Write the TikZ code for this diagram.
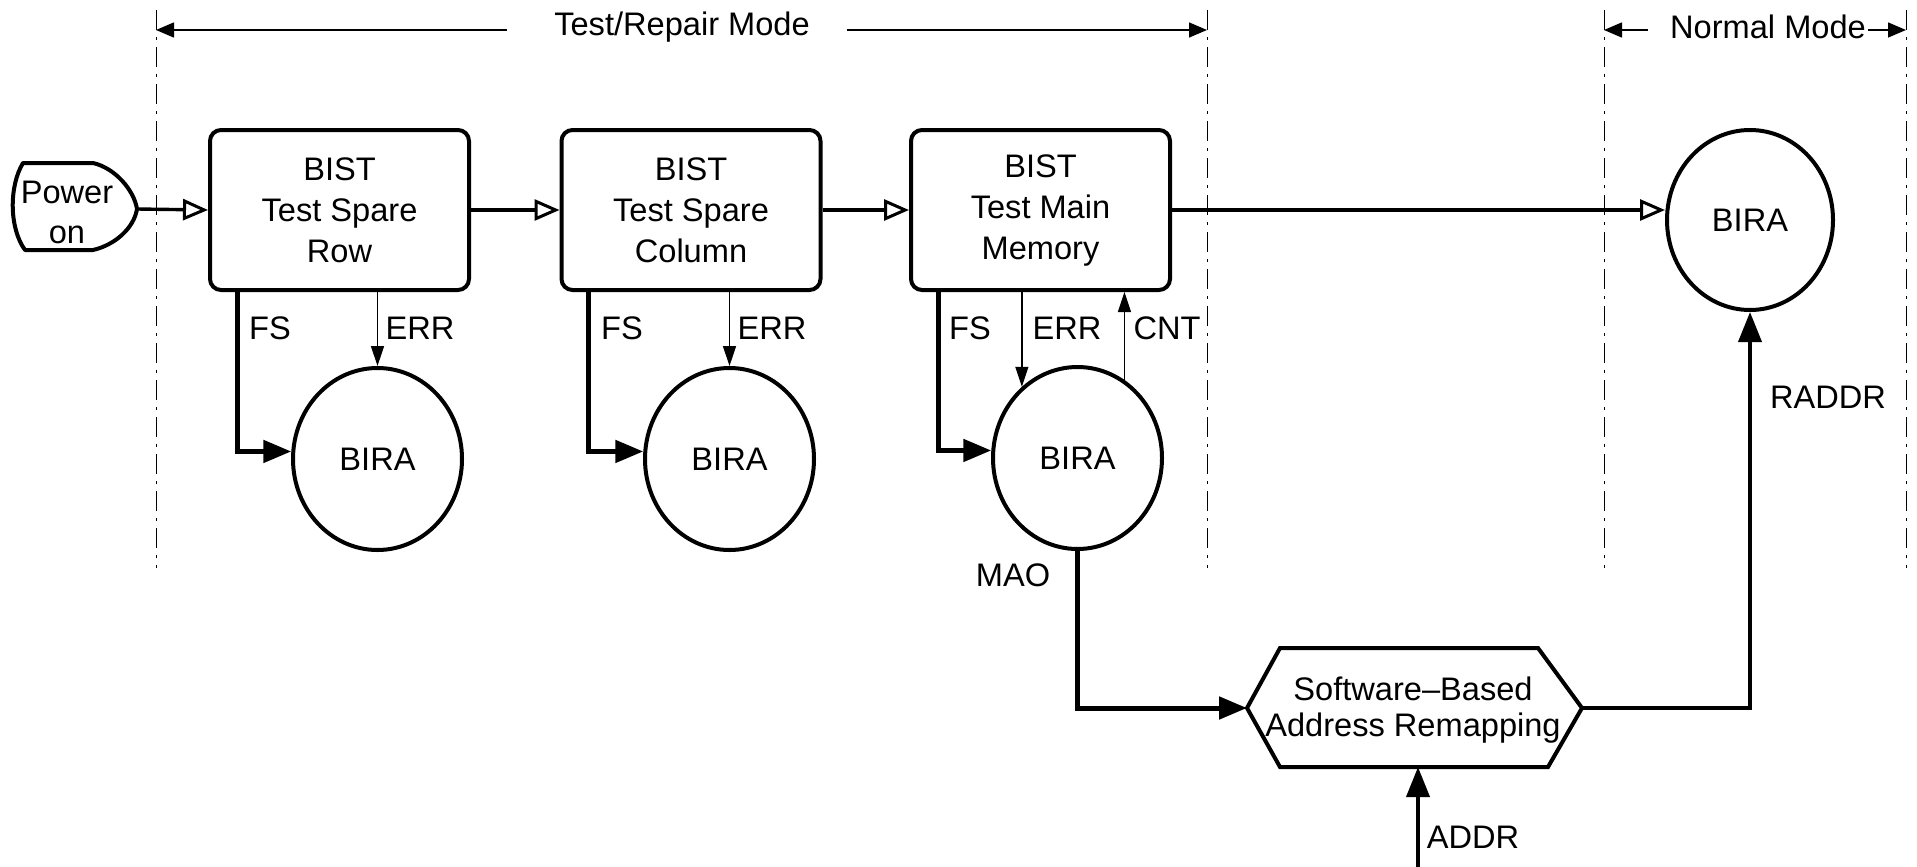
\documentclass[tikz,border=0pt]{standalone}
\usepackage{fontspec}
\setmainfont{Liberation Sans}
\usetikzlibrary{shapes.geometric,arrows.meta,calc}
\begin{document}
\begin{tikzpicture}[x=0.5pt,y=-0.5pt,
  font=\fontsize{16.3}{20.5}\selectfont,
  bistbox/.style={draw,line width=2pt,rounded corners=5.5pt,minimum width=129.5pt,
    minimum height=80pt,align=center,inner sep=0pt},
  bira/.style={draw,ellipse,line width=2pt,minimum width=84.5pt,minimum height=91pt,inner sep=0pt},
  lbl/.style={inner sep=0pt},
  flow/.style={line width=1.7pt,-{Triangle[open,length=12.5pt,width=10.5pt,line width=1.5pt]}},
  thickarr/.style={line width=2.5pt,-{Triangle[length=14pt,width=11pt]}},
  midarr/.style={line width=1.9pt,-{Triangle[length=15pt,width=11.5pt]}},
  thinarr/.style={line width=0.7pt,-{Triangle[length=10pt,width=6.5pt]}},
  modearr/.style={line width=0.7pt,-{Triangle[length=9pt,width=7.5pt]}},
  boundary/.style={line width=0.5pt,dash pattern=on 10pt off 3.5pt on 1.5pt off 3.5pt},
]
\useasboundingbox (0,0) rectangle (1917,867);

% mode boundaries
\foreach \xx/\nm in {156/b1,1207/b2,1604/b3,1906/b4}{
  \coordinate (\nm top) at (\xx,10);
  \coordinate (\nm bot) at (\xx,568);
  \draw[boundary] (\nm top) -- (\nm bot);
}

% mode headers
\node[lbl] (trm) at (682,27) {Test/Repair Mode};
\node[lbl] (nm) at (1768,27) {Normal Mode};
\coordinate (trmL) at (507,30);
\coordinate (trmR) at (847,30);
\coordinate (nmL) at (1648,30);
\coordinate (nmR) at (1868,30);
\draw[modearr] (trmL) -- (trmL -| b1top);
\draw[modearr] (trmR) -- (trmR -| b2top);
\draw[modearr] (nmL) -- (nmL -| b3top);
\draw[modearr] (nmR) -- (nmR -| b4top);

% power-on terminal
\node[lbl,align=center,font=\fontsize{16.3}{20}\selectfont] (power) at (67,212) {Power\\on};
\coordinate (ptip) at (137,209);
\draw[line width=2pt,line join=round]
  (23,163) -- (93,163) .. controls (115,168) and (134,190) .. (ptip)
  .. controls (134,228) and (115,245) .. (93,250) -- (25,250)
  .. controls (9,228) and (9,186) .. (23,163) -- cycle;

% BIST stages
\node[bistbox] (box1) at (339.5,210) {BIST\\Test Spare\\Row};
\node[bistbox] (box2) at (691,210) {BIST\\Test Spare\\Column};
\node[bistbox] (box3) at (1040.5,210) {BIST\\Test Main\\Memory};

% BIRA blocks
\node[bira] (bira1) at (377.5,459) {BIRA};
\node[bira] (bira2) at (729.5,459) {BIRA};
\node[bira] (bira3) at (1077.5,458) {BIRA};
\node[bira,minimum width=83pt,minimum height=90pt] (bira4) at (1750,220) {BIRA};

% address remapping block
\node[lbl,align=center,font=\fontsize{16.3}{18}\selectfont] (remap) at (1413,710) {Software--Based\\Address Remapping};
\coordinate (hexL) at (1247,708);
\coordinate (hexR) at (1582,708);
\coordinate (hexB) at (1418,767);
\draw[line width=2pt] (hexL) -- (1280,648) -- (1538,648) -- (hexR) -- (1548,767) -- (1280,767) -- cycle;
\coordinate (addrS) at (1418,875);

% main test flow
\draw[flow] (ptip) -- (box1.west);
\draw[flow] (box1.east) -- (box2.west);
\draw[flow] (box2.east) -- (box3.west);
\draw[flow] (box3.east) -- (box3.east -| bira4.west);

% FS / ERR / CNT links
\foreach \b/\r in {box1/bira1,box2/bira2,box3/bira3}{
  \draw[thickarr] ($(\b.south west)+(29,0)$) |- (\r.175);
}
\draw[thinarr] (box1.south -| bira1.north) -- (bira1.north);
\draw[thinarr] (box2.south -| bira2.north) -- (bira2.north);
\draw[thinarr] (box3.south -| bira3.128) -- (bira3.128);
\draw[thinarr] (bira3.59) -- (bira3.59 |- box3.south);

\node[lbl] (fs1) at (270,328) {FS};
\node[lbl] (err1) at (420,328) {ERR};
\node[lbl] (fs2) at (622,328) {FS};
\node[lbl] (err2) at (772,328) {ERR};
\node[lbl] (fs3) at (970,328) {FS};
\node[lbl] (err3) at (1067,328) {ERR};
\node[lbl] (cnt3) at (1167,328) {CNT};

% repair data path
\draw[thickarr] (bira3.south) |- (hexL);
\node[lbl] (mao) at (1013,575) {MAO};
\draw[midarr] (hexR) -| (bira4.south);
\node[lbl] (raddr) at (1828,397) {RADDR};
\draw[midarr] (addrS) -- (hexB);
\node[lbl] (addr) at (1473,837) {ADDR};
\end{tikzpicture}
\end{document}
